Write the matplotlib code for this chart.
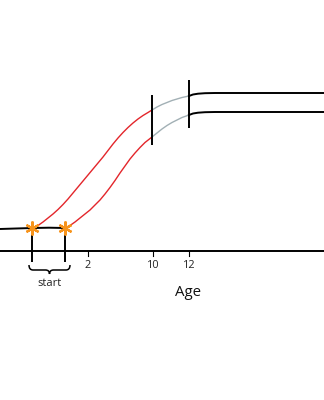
import matplotlib
matplotlib.use("Agg")
import matplotlib.pyplot as plt
from matplotlib.path import Path
from matplotlib.patches import PathPatch

plt.rcParams['font.family'] = ['Open Sans', 'DejaVu Sans']

# Schematic growth curves: horizontal position along the age axis, height above the axis
baseline_x = [0, 16, 33, 49, 65]
baseline_h = [22, 22.5, 23, 23.3, 23]

early_rise_x = [33, 38, 43, 48, 53, 58, 63, 68, 73, 78, 83, 88, 93,
                98, 103, 108, 113, 118, 123, 128, 133, 138, 143, 148, 152]
early_rise_h = [23, 25.5, 29, 33, 37, 41.5, 46.5, 52, 58, 64, 70, 76, 82,
                88, 94, 100.5, 107, 113, 118.5, 123.5, 128, 132, 135.5, 138.5, 141]
early_slow_x = [152, 157, 162, 167, 172, 177, 182, 189]
early_slow_h = [141, 144, 146.5, 148.5, 150.5, 152, 153.5, 155]
early_adult_x = [189, 193, 198, 205, 215, 324]
early_adult_h = [155, 156.5, 157.3, 157.8, 158, 158]

late_rise_x = [65, 70, 75, 80, 85, 90, 95, 100, 105, 110, 115, 120,
               125, 130, 135, 140, 145, 152]
late_rise_h = [23, 25.5, 29, 33, 37, 41, 46, 51, 57, 63.5, 70.5, 78,
               85, 92, 98, 103.5, 108.5, 114]
late_slow_x = [152, 157, 162, 167, 172, 177, 182, 189]
late_slow_h = [114, 118, 122, 125.5, 128.5, 131, 133.5, 136]
late_adult_x = [189, 193, 198, 205, 215, 324]
late_adult_h = [136, 137.5, 138.3, 138.8, 139, 139]

onset_x = [32, 65]
onset_h = [23, 23]

age_tick_pos = [88, 153, 189]
age_tick_labels = ["2", "10", "12"]

# age markers crossing the curves (position, bottom, top)
milestones = [(152, 106, 156), (189, 123, 171)]

RED = "#e3262b"
GRAY = "#a2b0b5"
ORANGE = "#f7941d"

fig = plt.figure(figsize=(3.24, 4.0), dpi=100)
ax = fig.add_axes([0, 0, 1, 1])
ax.set_xlim(0, 324)
ax.set_ylim(-149, 251)
ax.axis("off")

# age axis
ax.plot([0, 324], [0, 0], color="black", lw=1.4, solid_capstyle="butt")
for p, lab in zip(age_tick_pos, age_tick_labels):
    ax.plot([p, p], [0, -5], color="black", lw=0.8)
    ax.text(p, -15, lab, ha="center", va="center", fontsize=7.8, color="#222222")
ax.text(188, -41, "Age", ha="center", va="center", fontsize=10.8, color="#111111")

# curves
ax.plot(baseline_x, baseline_h, color="black", lw=1.4, solid_capstyle="butt")
ax.plot(early_rise_x, early_rise_h, color=RED, lw=1.0)
ax.plot(late_rise_x, late_rise_h, color=RED, lw=1.0)
ax.plot(early_slow_x, early_slow_h, color=GRAY, lw=1.0)
ax.plot(late_slow_x, late_slow_h, color=GRAY, lw=1.0)
ax.plot(early_adult_x, early_adult_h, color="black", lw=1.4)
ax.plot(late_adult_x, late_adult_h, color="black", lw=1.4)

for x, y0, y1 in milestones:
    ax.plot([x, x], [y0, y1], color="black", lw=1.4, solid_capstyle="butt")

# onset markers with drop lines
for x in onset_x:
    ax.plot([x, x], [17, -11], color="black", lw=1.4, solid_capstyle="butt")
ax.plot(onset_x, onset_h, linestyle="none", marker=(6, 2, 0), markersize=10,
        markeredgewidth=1.6, color=ORANGE, zorder=5)

# curly brace under the onset interval
x0, x1 = 29, 70
xm = (x0 + x1) / 2
top, mid, tip = -14, -19, -23
verts = [
    (x0, top), (x0, mid), (x0 + 4, mid),
    (xm - 4, mid),
    (xm, mid), (xm, tip),
    (xm, mid), (xm + 4, mid),
    (x1 - 4, mid),
    (x1, mid), (x1, top),
]
codes = [Path.MOVETO, Path.CURVE3, Path.CURVE3,
         Path.LINETO,
         Path.CURVE3, Path.CURVE3,
         Path.CURVE3, Path.CURVE3,
         Path.LINETO,
         Path.CURVE3, Path.CURVE3]
ax.add_patch(PathPatch(Path(verts, codes), fill=False, lw=1.1, edgecolor="black"))
ax.text(xm, -32, "start", ha="center", va="center", fontsize=8, color="#222222")

fig.savefig("out.png", dpi=100)
